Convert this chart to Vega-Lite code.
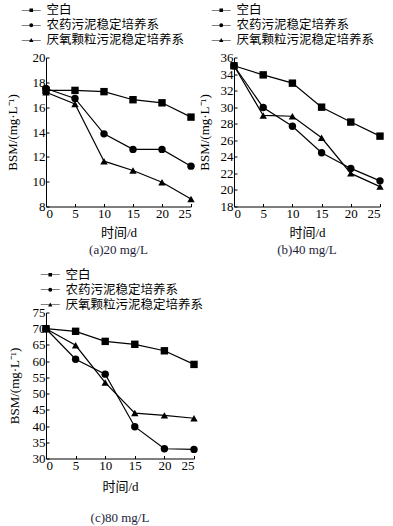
{
  "$schema": "https://vega.github.io/schema/vega-lite/v6.json",
  "padding": {"left": 6, "top": 3.5, "right": 0, "bottom": 0},
  "datasets": {
    "d": [
      {"p": "a", "s": "空白", "t": 0, "v": 17.35},
      {"p": "a", "s": "空白", "t": 5, "v": 17.35},
      {"p": "a", "s": "空白", "t": 10, "v": 17.25},
      {"p": "a", "s": "空白", "t": 15, "v": 16.6},
      {"p": "a", "s": "空白", "t": 20, "v": 16.35},
      {"p": "a", "s": "空白", "t": 25, "v": 15.2},
      {"p": "a", "s": "农药污泥稳定培养系", "t": 0, "v": 17.5},
      {"p": "a", "s": "农药污泥稳定培养系", "t": 5, "v": 16.7},
      {"p": "a", "s": "农药污泥稳定培养系", "t": 10, "v": 13.85},
      {"p": "a", "s": "农药污泥稳定培养系", "t": 15, "v": 12.6},
      {"p": "a", "s": "农药污泥稳定培养系", "t": 20, "v": 12.6},
      {"p": "a", "s": "农药污泥稳定培养系", "t": 25, "v": 11.25},
      {"p": "a", "s": "厌氧颗粒污泥稳定培养系", "t": 0, "v": 17.2},
      {"p": "a", "s": "厌氧颗粒污泥稳定培养系", "t": 5, "v": 16.25},
      {"p": "a", "s": "厌氧颗粒污泥稳定培养系", "t": 10, "v": 11.65},
      {"p": "a", "s": "厌氧颗粒污泥稳定培养系", "t": 15, "v": 10.9},
      {"p": "a", "s": "厌氧颗粒污泥稳定培养系", "t": 20, "v": 9.95},
      {"p": "a", "s": "厌氧颗粒污泥稳定培养系", "t": 25, "v": 8.6},
      {"p": "b", "s": "空白", "t": 0, "v": 35.0},
      {"p": "b", "s": "空白", "t": 5, "v": 33.9},
      {"p": "b", "s": "空白", "t": 10, "v": 32.9},
      {"p": "b", "s": "空白", "t": 15, "v": 30.0},
      {"p": "b", "s": "空白", "t": 20, "v": 28.2},
      {"p": "b", "s": "空白", "t": 25, "v": 26.5},
      {"p": "b", "s": "农药污泥稳定培养系", "t": 0, "v": 35.0},
      {"p": "b", "s": "农药污泥稳定培养系", "t": 5, "v": 29.95},
      {"p": "b", "s": "农药污泥稳定培养系", "t": 10, "v": 27.7},
      {"p": "b", "s": "农药污泥稳定培养系", "t": 15, "v": 24.5},
      {"p": "b", "s": "农药污泥稳定培养系", "t": 20, "v": 22.6},
      {"p": "b", "s": "农药污泥稳定培养系", "t": 25, "v": 21.1},
      {"p": "b", "s": "厌氧颗粒污泥稳定培养系", "t": 0, "v": 35.0},
      {"p": "b", "s": "厌氧颗粒污泥稳定培养系", "t": 5, "v": 29.0},
      {"p": "b", "s": "厌氧颗粒污泥稳定培养系", "t": 10, "v": 28.9},
      {"p": "b", "s": "厌氧颗粒污泥稳定培养系", "t": 15, "v": 26.3},
      {"p": "b", "s": "厌氧颗粒污泥稳定培养系", "t": 20, "v": 22.0},
      {"p": "b", "s": "厌氧颗粒污泥稳定培养系", "t": 25, "v": 20.4},
      {"p": "c", "s": "空白", "t": 0, "v": 70.0},
      {"p": "c", "s": "空白", "t": 5, "v": 69.2},
      {"p": "c", "s": "空白", "t": 10, "v": 66.1},
      {"p": "c", "s": "空白", "t": 15, "v": 65.2},
      {"p": "c", "s": "空白", "t": 20, "v": 63.2},
      {"p": "c", "s": "空白", "t": 25, "v": 59.0},
      {"p": "c", "s": "农药污泥稳定培养系", "t": 0, "v": 70.0},
      {"p": "c", "s": "农药污泥稳定培养系", "t": 5, "v": 60.6},
      {"p": "c", "s": "农药污泥稳定培养系", "t": 10, "v": 56.0},
      {"p": "c", "s": "农药污泥稳定培养系", "t": 15, "v": 39.8},
      {"p": "c", "s": "农药污泥稳定培养系", "t": 20, "v": 33.0},
      {"p": "c", "s": "农药污泥稳定培养系", "t": 25, "v": 32.8},
      {"p": "c", "s": "厌氧颗粒污泥稳定培养系", "t": 0, "v": 70.0},
      {"p": "c", "s": "厌氧颗粒污泥稳定培养系", "t": 5, "v": 64.9},
      {"p": "c", "s": "厌氧颗粒污泥稳定培养系", "t": 10, "v": 53.4},
      {"p": "c", "s": "厌氧颗粒污泥稳定培养系", "t": 15, "v": 44.0},
      {"p": "c", "s": "厌氧颗粒污泥稳定培养系", "t": 20, "v": 43.3},
      {"p": "c", "s": "厌氧颗粒污泥稳定培养系", "t": 25, "v": 42.4}
    ]
  },
  "spacing": 12,
  "vconcat": [
    {
      "bounds": "flush",
      "spacing": 43,
      "hconcat": [
        {
          "width": 145,
          "height": 149,
          "title": {"text": "(a)20 mg/L", "orient": "bottom", "offset": 4},
          "data": {"name": "d"},
          "transform": [{"filter": "datum.p == 'a'"}],
          "encoding": {
            "x": {"field": "t", "type": "quantitative", "scale": {"domain": [0, 25], "nice": false}, "axis": {"values": [0, 5, 10, 15, 20, 25], "title": "时间/d", "titlePadding": 6}},
            "y": {"field": "v", "type": "quantitative", "scale": {"domain": [8, 20], "nice": false, "zero": false}, "axis": {"values": [8, 10, 12, 14, 16, 18, 20], "title": "BSM/(mg·L⁻¹)", "titlePadding": 13}}
          },
          "layer": [
            {"mark": {"type": "line", "color": "black", "strokeWidth": 1.2}, "encoding": {"detail": {"field": "s"}}},
            {"mark": {"type": "point", "filled": true, "color": "black", "opacity": 1, "size": 55}, "encoding": {"shape": {"field": "s", "scale": {"domain": ["空白", "农药污泥稳定培养系", "厌氧颗粒污泥稳定培养系"], "range": ["square", "circle", "triangle-up"]}, "legend": null}}},
            {"transform": [{"filter": "datum.t < 0"}], "mark": {"type": "point", "filled": true, "color": "black", "opacity": 1}, "encoding": {"shape": {"field": "s", "scale": {"domain": ["空白", "农药污泥稳定培养系", "厌氧颗粒污泥稳定培养系"], "range": ["M-1.9,-0.07H1.9V0.07H-1.9Z M-0.36,-0.36H0.36V0.36H-0.36Z", "M-1.9,-0.07H1.9V0.07H-1.9Z M-0.39,0A0.39,0.39 0 1,1 0.39,0A0.39,0.39 0 1,1 -0.39,0Z", "M-1.9,-0.07H1.9V0.07H-1.9Z M0,-0.43L0.43,0.33L-0.43,0.33Z"]}, "legend": {"orient": "none", "legendX": -21, "legendY": -53.5}}}}
          ],
          "resolve": {"scale": {"shape": "independent"}, "legend": {"shape": "independent"}}
        },
        {
          "width": 146,
          "height": 149,
          "title": {"text": "(b)40 mg/L", "orient": "bottom", "offset": 4},
          "data": {"name": "d"},
          "transform": [{"filter": "datum.p == 'b'"}],
          "encoding": {
            "x": {"field": "t", "type": "quantitative", "scale": {"domain": [0, 25], "nice": false}, "axis": {"values": [0, 5, 10, 15, 20, 25], "title": "时间/d", "titlePadding": 6}},
            "y": {"field": "v", "type": "quantitative", "scale": {"domain": [18, 36], "nice": false, "zero": false}, "axis": {"values": [18, 20, 22, 24, 26, 28, 30, 32, 34, 36], "title": "BSM/(mg·L⁻¹)", "titlePadding": 9}}
          },
          "layer": [
            {"mark": {"type": "line", "color": "black", "strokeWidth": 1.2}, "encoding": {"detail": {"field": "s"}}},
            {"mark": {"type": "point", "filled": true, "color": "black", "opacity": 1, "size": 55}, "encoding": {"shape": {"field": "s", "scale": {"domain": ["空白", "农药污泥稳定培养系", "厌氧颗粒污泥稳定培养系"], "range": ["square", "circle", "triangle-up"]}, "legend": null}}},
            {"transform": [{"filter": "datum.t < 0"}], "mark": {"type": "point", "filled": true, "color": "black", "opacity": 1}, "encoding": {"shape": {"field": "s", "scale": {"domain": ["空白", "农药污泥稳定培养系", "厌氧颗粒污泥稳定培养系"], "range": ["M-1.9,-0.07H1.9V0.07H-1.9Z M-0.36,-0.36H0.36V0.36H-0.36Z", "M-1.9,-0.07H1.9V0.07H-1.9Z M-0.39,0A0.39,0.39 0 1,1 0.39,0A0.39,0.39 0 1,1 -0.39,0Z", "M-1.9,-0.07H1.9V0.07H-1.9Z M0,-0.43L0.43,0.33L-0.43,0.33Z"]}, "legend": {"orient": "none", "legendX": -19, "legendY": -53.5}}}}
          ],
          "resolve": {"scale": {"shape": "independent"}, "legend": {"shape": "independent"}}
        }
      ]
    },
    {
      "width": 148,
      "height": 146,
      "title": {"text": "(c)80 mg/L", "orient": "bottom", "offset": 18},
      "data": {"name": "d"},
      "transform": [{"filter": "datum.p == 'c'"}],
      "encoding": {
        "x": {"field": "t", "type": "quantitative", "scale": {"domain": [0, 25], "nice": false}, "axis": {"values": [0, 5, 10, 15, 20, 25], "title": "时间/d", "titlePadding": 8}},
        "y": {"field": "v", "type": "quantitative", "scale": {"domain": [30, 75], "nice": false, "zero": false}, "axis": {"values": [30, 35, 40, 45, 50, 55, 60, 65, 70, 75], "title": "BSM/(mg·L⁻¹)", "titlePadding": 11}}
      },
      "layer": [
        {"mark": {"type": "line", "color": "black", "strokeWidth": 1.2}, "encoding": {"detail": {"field": "s"}}},
        {"mark": {"type": "point", "filled": true, "color": "black", "opacity": 1, "size": 55}, "encoding": {"shape": {"field": "s", "scale": {"domain": ["空白", "农药污泥稳定培养系", "厌氧颗粒污泥稳定培养系"], "range": ["square", "circle", "triangle-up"]}, "legend": null}}},
        {"transform": [{"filter": "datum.t < 0"}], "mark": {"type": "point", "filled": true, "color": "black", "opacity": 1}, "encoding": {"shape": {"field": "s", "scale": {"domain": ["空白", "农药污泥稳定培养系", "厌氧颗粒污泥稳定培养系"], "range": ["M-1.9,-0.07H1.9V0.07H-1.9Z M-0.36,-0.36H0.36V0.36H-0.36Z", "M-1.9,-0.07H1.9V0.07H-1.9Z M-0.39,0A0.39,0.39 0 1,1 0.39,0A0.39,0.39 0 1,1 -0.39,0Z", "M-1.9,-0.07H1.9V0.07H-1.9Z M0,-0.43L0.43,0.33L-0.43,0.33Z"]}, "legend": {"orient": "none", "legendX": -2, "legendY": -44}}}}
      ],
      "resolve": {"scale": {"shape": "independent"}, "legend": {"shape": "independent"}}
    }
  ],
  "config": {
    "view": {"stroke": null},
    "axis": {"grid": false, "domainColor": "black", "domainWidth": 1, "tickColor": "black", "tickSize": -3, "tickWidth": 1, "labelFont": "Liberation Serif", "labelFontSize": 13, "labelColor": "black", "labelPadding": 4, "titleFont": "Liberation Serif, Noto Sans CJK SC", "titleFontSize": 13, "titleFontWeight": "normal", "titleColor": "black"},
    "legend": {"title": null, "symbolSize": 100, "symbolFillColor": "black", "symbolStrokeWidth": 0, "labelFont": "Noto Sans CJK SC", "labelFontSize": 12.5, "labelColor": "black", "labelLimit": 300, "labelOffset": 9, "rowPadding": 2, "padding": 0},
    "title": {"font": "Liberation Serif, Noto Sans CJK SC", "fontSize": 13, "fontWeight": "normal", "color": "#1e1e3c", "anchor": "middle"}
  }
}
